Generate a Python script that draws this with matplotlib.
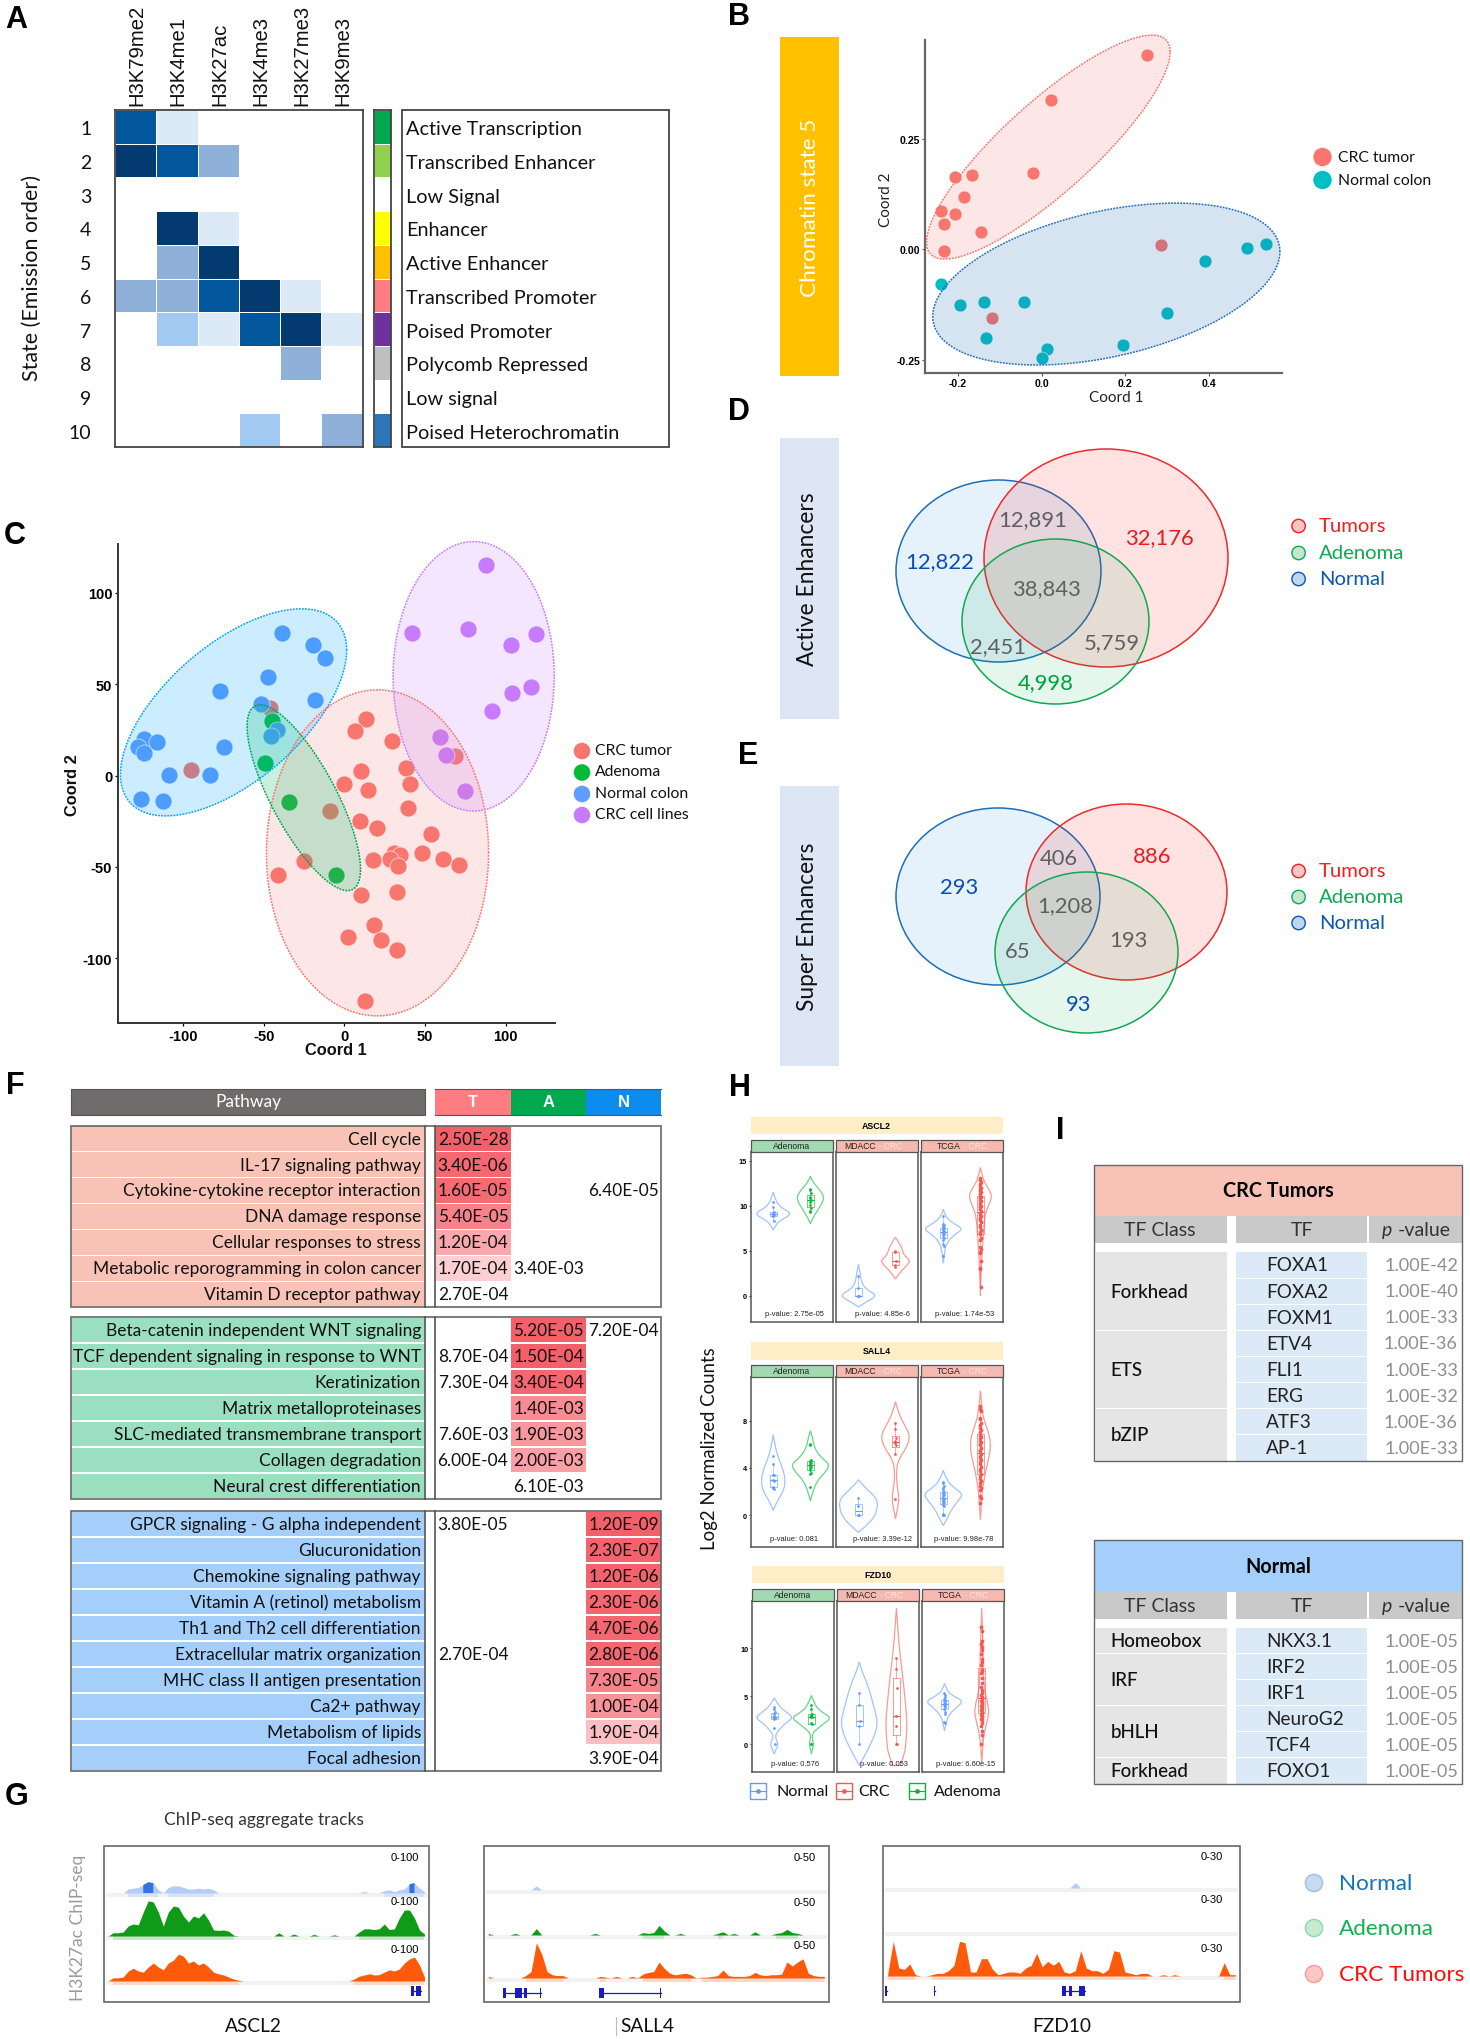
import numpy as np
import matplotlib
matplotlib.use("Agg")
import matplotlib.pyplot as plt
from matplotlib.colors import ListedColormap, LinearSegmentedColormap
from matplotlib.patches import Rectangle, Ellipse, Circle, PathPatch
from matplotlib.path import Path

plt.rcParams['font.family'] = ['Lato', 'DejaVu Sans']
plt.rcParams['axes.unicode_minus'] = False

W, H = 1470, 2040

# ---- panel A
marks = ["H3K79me2", "H3K4me1", "H3K27ac", "H3K4me3", "H3K27me3", "H3K9me3"]
states = ["Active Transcription", "Transcribed Enhancer", "Low Signal", "Enhancer", "Active Enhancer",
          "Transcribed Promoter", "Poised Promoter", "Polycomb Repressed", "Low signal", "Poised Heterochromatin"]
state_colors = ["#00a84f", "#92d050", "#ffffff", "#ffff00", "#ffc000", "#ff7c80", "#7030a0", "#bfbfbf", "#ffffff", "#2e75b6"]
emission = [[4, 1, 0, 0, 0, 0],
            [5, 4, 3, 0, 0, 0],
            [0, 0, 0, 0, 0, 0],
            [0, 5, 1, 0, 0, 0],
            [0, 3, 5, 0, 0, 0],
            [3, 3, 4, 5, 1, 0],
            [0, 2, 1, 4, 5, 1],
            [0, 0, 0, 0, 3, 0],
            [0, 0, 0, 0, 0, 0],
            [0, 0, 0, 2, 0, 3]]
emission_colors = ["#ffffff", "#dce9f7", "#a1c9f1", "#8fb1d9", "#02569b", "#033a70"]

# ---- panel B
b_crc_x = [.2516, .0216, -.0205, -.1652, -.2073, -.1847, -.2397, -.2063, -.2322, -.1436, -.2333, .2851, -.1177]
b_crc_y = [.4397, .3371, .1727, .1667, .1621, .1169, .0867, .0792, .0573, .0377, -.0038, .0090, -.1569]
b_norm_x = [-.2397, -.1955, -.1382, -.0421, -.1339, .0130, 0, .1955, .2991, .3898, .4903, .5356]
b_norm_y = [-.0784, -.1267, -.1207, -.1207, -.2014, -.2255, -.2474, -.2164, -.1440, -.0279, .0030, .0121]

# ---- panel C
c_crc_x = [13.4, 6.3, 29.3, 68.9, 10.5, 38.5, 0, 14.5, 40.5, 39.3, -8.8, 9.7, 20.2, 53.6, 48.1, 61.0, 70.9, 17.7, 30.8,
           34.2, 28.5, 33.0, -24.8, -41.3, 10.3, 32.5, 18.5, 2.0, 22.5, 32.5, 12.8, -46.4, -95.4]
c_crc_y = [30.9, 24.2, 19.0, 10.8, 2.7, 4.3, -4.7, -8.0, -4.5, -18.0, -19.2, -24.8, -28.5, -31.9, -42.2, -45.9, -48.9,
           -46.5, -42.6, -43.6, -45.9, -49.5, -46.7, -54.7, -65.5, -63.5, -82.1, -88.6, -89.9, -95.6, -123.6, 36.9, 3.1]
c_aden_x = [-44.7, -49.3, -34.2, -5.1]
c_aden_y = [29.9, 7.0, -14.3, -54.5]
c_norm_x = [-38.5, -19.7, -12.3, -47.6, -76.9, -18.5, -51.6, -41.9, -45.3, -124.2, -116, -128.2, -124.2, -74.9, -108.8,
            -83.5, -126.5, -112.3]
c_norm_y = [78.0, 71.6, 64.5, 54.2, 46.1, 41.1, 38.9, 24.8, 21.5, 19.9, 18.3, 15.4, 12.1, 15.8, 0.2, 0.4, -12.7, -13.7]
c_line_x = [88.0, 41.9, 76.9, 119.1, 103.1, 116, 103.7, 91.5, 59.3, 63.2, 74.6]
c_line_y = [115.3, 78.2, 80.4, 77.4, 71.6, 48.7, 45.2, 35.4, 20.9, 11.1, -8.4]

# ---- panels D and E
active_counts = ["12,891", "32,176", "12,822", "38,843", "2,451", "5,759", "4,998"]
super_counts = ["406", "886", "293", "1,208", "193", "65", "93"]
venn_groups = ["Tumors", "Adenoma", "Normal"]

# ---- panel F
tumor_paths = ["Cell cycle", "IL-17 signaling pathway", "Cytokine-cytokine receptor interaction", "DNA damage response",
               "Cellular responses to stress", "Metabolic reporogramming in colon cancer", "Vitamin D receptor pathway"]
tumor_T = ["2.50E-28", "3.40E-06", "1.60E-05", "5.40E-05", "1.20E-04", "1.70E-04", "2.70E-04"]
tumor_A = ["", "", "", "", "", "3.40E-03", ""]
tumor_N = ["", "", "6.40E-05", "", "", "", ""]
tumor_shade = [1.0, .95, .93, .78, .55, .3, 0.0]

adenoma_paths = ["Beta-catenin independent WNT signaling", "TCF dependent signaling in response to WNT", "Keratinization",
                 "Matrix metalloproteinases", "SLC-mediated transmembrane transport", "Collagen degradation",
                 "Neural crest differentiation"]
adenoma_T = ["", "8.70E-04", "7.30E-04", "", "7.60E-03", "6.00E-04", ""]
adenoma_A = ["5.20E-05", "1.50E-04", "3.40E-04", "1.40E-03", "1.90E-03", "2.00E-03", "6.10E-03"]
adenoma_N = ["7.20E-04", "", "", "", "", "", ""]
adenoma_shade = [1.0, 1.0, .96, .72, .65, .6, 0.0]

normal_paths = ["GPCR signaling - G alpha independent", "Glucuronidation", "Chemokine signaling pathway",
                "Vitamin A (retinol) metabolism", "Th1 and Th2 cell differentiation", "Extracellular matrix organization",
                "MHC class II antigen presentation", "Ca2+ pathway", "Metabolism of lipids", "Focal adhesion"]
normal_T = ["3.80E-05", "", "", "", "", "2.70E-04", "", "", "", ""]
normal_A = [""] * 10
normal_N = ["1.20E-09", "2.30E-07", "1.20E-06", "2.30E-06", "4.70E-06", "2.80E-06", "7.30E-05", "1.00E-04", "1.90E-04", "3.90E-04"]
normal_shade = [1.0, .98, .98, .96, .96, .96, .78, .68, .4, 0.0]

# ---- panel H, violin outlines are (y, half width), dots are the samples
genes = ["ASCL2", "SALL4", "FZD10"]
cohorts = ["Adenoma", "MDACC", "TCGA"]
ascl2_pvals = ["p-value: 2.75e-05", "p-value: 4.85e-6", "p-value: 1.74e-53"]
sall4_pvals = ["p-value: 0.081", "p-value: 3.39e-12", "p-value: 9.98e-78"]
fzd10_pvals = ["p-value: 0.576", "p-value: 0.053", "p-value: 6.60e-15"]

ascl2_shapes = [
    ([7.3, 7.8, 8.4, 9.1, 9.8, 10.5, 11.0, 11.5], [0, .06, .2, .52, .2, .08, .04, 0]),
    ([8.0, 8.6, 9.5, 10.9, 12.0, 12.7, 13.3], [0, .06, .2, .4, .2, .05, 0]),
    ([-1.26, -.7, 0, .7, 1.5, 2.5, 3.5], [0, .2, .52, .2, .08, .05, 0]),
    ([1.85, 2.5, 3.4, 3.9, 4.5, 5.3, 6.0, 6.5], [0, .1, .32, .4, .22, .18, .07, 0]),
    ([3.6, 4.8, 5.8, 6.8, 7.4, 8.0, 8.8, 9.6], [0, .03, .08, .3, .54, .28, .05, 0]),
    ([-.07, 3, 5, 7, 9, 10, 11.1, 12, 13, 14.26], [0, .02, .05, .08, .12, .22, .32, .2, .06, 0]),
]
ascl2_points = [
    [10.4, 9.9, 9.3, 9.2, 9.1, 9.0, 8.9, 8.8, 8.3],
    [11.9, 11.7, 11.4, 11.0, 10.8, 10.6, 10.4, 10.1, 9.7, 9.4, 9.3],
    [2.2, .9, 0, 0, 0],
    [5.0, 4.9, 3.9, 3.4, 3.2],
    [8.9, 8.0, 7.9, 7.7, 7.6, 7.5, 7.4, 7.3, 7.2, 7.1, 7.0, 6.9, 6.8, 6.6, 6.4, 6.2, 5.7, 5.5, 4.4, 4.4],
    [13.1, 12.8, 12.6, 12.4, 12.2, 12.0, 11.8, 11.6, 11.5, 11.3, 11.1, 11.0, 10.8, 10.6, 10.5, 10.3, 10.1, 10.0, 9.8, 9.6,
     9.4, 9.2, 9.0, 8.8, 8.6, 8.4, 8.2, 7.9, 7.6, 7.3, 7.1, 6.8, 6.4, 6.2, 5.4, 5.2, 4.9, 4.7, 3.9, 3.1, 3.0, 1.0],
]
sall4_shapes = [
    ([.4, 1.2, 2, 2.9, 3.8, 4.6, 5.6, 6.8], [0, .1, .27, .33, .27, .17, .06, 0]),
    ([1.2, 2.0, 3.0, 3.7, 4.3, 4.9, 5.6, 6.4, 7.15], [0, .06, .2, .42, .52, .28, .12, .07, 0]),
    ([-1.45, -.9, -.2, .5, 1.1, 1.7, 2.3, 3.0], [0, .2, .42, .5, .52, .42, .18, 0]),
    ([-.3, .5, 1.5, 2.5, 3.9, 4.8, 5.7, 6.7, 7.6, 8.6, 9.6], [0, .05, .1, .04, .02, .1, .3, .4, .25, .08, 0]),
    ([-.87, -.3, .5, 1.2, 1.8, 2.4, 3.1, 3.8], [0, .1, .22, .4, .54, .25, .07, 0]),
    ([-.37, 1, 2, 3, 4, 5, 6, 7, 8, 9, 10.5], [0, .03, .05, .1, .16, .24, .28, .22, .1, .04, 0]),
]
sall4_points = [
    [5.0, 4.3, 3.4, 3.4, 3.0, 2.9, 2.4, 2.3, 2.2],
    [6.0, 5.9, 4.7, 4.6, 4.5, 4.4, 4.3, 4.2, 4.1, 4.0, 3.8, 3.6, 3.5, 2.4],
    [1.5, .8, 0, 0],
    [7.8, 7.3, 6.5, 6.3, 6.1, 5.9, 5.2, 1.4],
    [2.8, 2.7, 2.5, 2.3, 2.1, 2.0, 1.9, 1.8, 1.7, 1.6, 1.5, 1.4, 1.3, 1.2, 1.1, 1.0, .9, .8, .1, 0, 0, 0],
    [9.2, 9.0, 8.8, 8.2, 8.1, 7.8, 7.6, 7.4, 7.2, 7.0, 6.8, 6.6, 6.5, 6.3, 6.2, 6.0, 5.9, 5.7, 5.5, 5.4, 5.2, 5.0, 4.8, 4.7,
     4.5, 4.3, 4.1, 3.9, 3.7, 3.5, 3.3, 3.1, 2.9, 2.7, 2.5, 2.3, 2.1, 1.6, 1.5, 1.0],
]
fzd10_shapes = [
    ([-1.0, -.5, 0, .5, 1.0, 1.6, 2.2, 2.8, 3.4, 4.1, 4.83], [0, .05, .11, .05, .03, .15, .3, .52, .3, .1, 0]),
    ([-1, -.4, 0, .5, 1.1, 1.6, 2.2, 2.8, 3.4, 4.2, 5.1], [0, .03, .06, .03, .02, .15, .35, .54, .25, .08, 0]),
    ([-2.2, -1, 0, 1, 2.3, 3.5, 5, 6.5, 7.6, 8.6], [0, .17, .3, .42, .5, .42, .32, .2, .07, 0]),
    ([-2.2, -1, 0, 1.5, 2.6, 4, 6, 8, 10, 12, 14.2], [.1, .22, .25, .28, .28, .25, .2, .14, .08, .04, 0]),
    ([1.4, 2.2, 3, 3.8, 4.5, 5.1, 5.7, 6.35], [0, .04, .1, .3, .52, .2, .05, 0]),
    ([-1.95, 0, 1, 2, 3, 3.5, 4.5, 5.5, 7, 9, 11, 14.2], [0, .03, .06, .12, .18, .19, .15, .08, .05, .04, .03, 0]),
]
fzd10_points = [
    [3.9, 3.7, 3.4, 3.2, 3.0, 2.9, 2.8, 2.7, 2.7, 2.6, 1.7, 0],
    [4.1, 3.7, 3.2, 3.1, 3.0, 2.9, 2.8, 2.2, 2.1, 0, 0],
    [5.4, 4.1, 2.4, 1.9, 0],
    [9, 7.9, 5.9, 3.0, 1.9, 0, 0],
    [5.4, 5.1, 4.9, 4.7, 4.6, 4.5, 4.4, 4.3, 4.2, 4.1, 4.0, 3.9, 3.7, 3.4, 3.2, 2.3, 2.2],
    [12.2, 11.8, 10.8, 10.5, 10.1, 9.8, 9.4, 8.9, 8.6, 8.3, 7.8, 7.6, 7.4, 6.9, 6.4, 6.0, 5.7, 5.4, 5.1, 4.9, 4.7, 4.5,
     4.4, 4.2, 4.0, 3.9, 3.7, 3.6, 3.4, 3.3, 3.1, 3.0, 2.8, 2.6, 2.5, 2.2, 1.9, 1.4, 1.0, 0],
]

# ---- panel G, signal height per bin (64 bins over the window), bins not listed are empty
ascl2_normal = {4: 10, 5: 12, 6: 14, 7: 20, 8: 27, 9: 25, 10: 8, 12: 14, 13: 18, 14: 18, 15: 14, 16: 10, 17: 10, 18: 12,
                19: 10, 20: 12, 21: 8, 51: 4, 55: 6, 56: 8, 57: 3, 58: 8, 59: 10, 60: 22, 61: 25, 62: 12, 63: 3}
ascl2_adenoma = {1: 8, 2: 8, 3: 10, 4: 25, 5: 30, 6: 28, 7: 60, 8: 88, 9: 85, 10: 60, 11: 25, 12: 60, 13: 75, 14: 72,
                 15: 50, 16: 35, 17: 50, 18: 45, 19: 58, 20: 40, 21: 15, 22: 14, 23: 15, 24: 12, 25: 2, 34: 8, 37: 5,
                 41: 4, 45: 3, 50: 10, 51: 18, 52: 18, 53: 16, 54: 18, 55: 30, 56: 16, 57: 18, 58: 45, 59: 65, 60: 65,
                 61: 45, 62: 15, 63: 5}
ascl2_tumor = {1: 8, 2: 8, 3: 10, 4: 25, 5: 32, 6: 25, 7: 22, 8: 35, 9: 45, 10: 35, 11: 28, 12: 45, 13: 52, 14: 67,
               15: 62, 16: 45, 17: 50, 18: 40, 19: 45, 20: 35, 21: 22, 22: 18, 23: 15, 24: 10, 25: 5, 26: 2, 49: 5,
               50: 12, 51: 15, 52: 18, 53: 15, 54: 16, 55: 22, 56: 28, 57: 25, 58: 30, 59: 45, 60: 55, 61: 60, 62: 40, 63: 10}
sall4_normal = {9: 5}
sall4_adenoma = {0: 2, 5: 2, 9: 8, 20: 2, 29: 3, 30: 2, 31: 3, 32: 12, 33: 5, 36: 2, 43: 2, 44: 4, 46: 2, 50: 4, 54: 2,
                 55: 3, 56: 7, 57: 3, 58: 2}
sall4_tumor = {0: 2, 7: 3, 8: 8, 9: 44, 10: 30, 11: 8, 12: 4, 13: 3, 14: 3, 21: 2, 22: 1, 24: 2, 27: 2, 29: 5, 30: 7,
               31: 8, 32: 20, 33: 12, 34: 6, 35: 4, 36: 5, 37: 6, 38: 4, 40: 1, 41: 1, 42: 2, 43: 3, 44: 10, 45: 3, 46: 2,
               47: 2, 48: 2, 49: 3, 50: 7, 51: 4, 52: 3, 53: 4, 54: 4, 55: 5, 56: 20, 57: 15, 58: 20, 59: 24, 60: 6,
               61: 3, 62: 2, 63: 2}
fzd10_normal = {34: 4}
fzd10_adenoma = {}
fzd10_tumor = {0: 2, 1: 26, 2: 6, 3: 5, 4: 9, 5: 1, 8: 1, 9: 2, 10: 2, 11: 4, 12: 8, 13: 26, 14: 25, 15: 3, 16: 3, 17: 13,
               18: 13, 19: 5, 20: 1, 21: 2, 22: 3, 23: 3, 24: 2, 25: 6, 26: 8, 27: 17, 28: 7, 29: 11, 30: 8, 31: 11, 32: 3,
               33: 2, 34: 4, 35: 19, 36: 6, 37: 4, 38: 4, 39: 2, 40: 5, 41: 19, 42: 18, 43: 3, 44: 2, 45: 1, 46: 2, 47: 2,
               50: 1, 52: 1, 61: 10, 62: 1, 63: 1}
ascl2_range, sall4_range, fzd10_range = 100, 50, 30

# ---- panel I
tumor_classes = ["Forkhead", "ETS", "bZIP"]
tumor_class_rows = [3, 3, 2]
tumor_tfs = ["FOXA1", "FOXA2", "FOXM1", "ETV4", "FLI1", "ERG", "ATF3", "AP-1"]
tumor_tf_p = ["1.00E-42", "1.00E-40", "1.00E-33", "1.00E-36", "1.00E-33", "1.00E-32", "1.00E-36", "1.00E-33"]
normal_classes = ["Homeobox", "IRF", "bHLH", "Forkhead"]
normal_class_rows = [1, 2, 2, 1]
normal_tfs = ["NKX3.1", "IRF2", "IRF1", "NeuroG2", "TCF4", "FOXO1"]
normal_tf_p = ["1.00E-05"] * 6

fig = plt.figure(figsize=(W / 100, H / 100), dpi=100, facecolor="white")

# overlay in pixel coordinates for labels, bands and tables
page = fig.add_axes([0, 0, 1, 1], zorder=5)
page.set_xlim(0, W)
page.set_ylim(H, 0)
page.axis("off")


def px_ax(x0, y0, x1, y1, **kw):
    return fig.add_axes([x0 / W, 1 - y1 / H, (x1 - x0) / W, (y1 - y0) / H], **kw)


def txt(x, y, s, size=12, ha="center", color="#111111", **kw):
    return page.text(x, y, s, fontsize=size, ha=ha, va="center", color=color, **kw)


def box(x0, y0, x1, y1, fc="none", ec="none", lw=0, **kw):
    page.add_patch(Rectangle((x0, y0), x1 - x0, y1 - y0, facecolor=fc, edgecolor=ec, linewidth=lw, **kw))


def conf_ellipse(ax, xr, yr, rho, color, alpha=.2, edge=None):
    # ellipse from its bounding box and tilt
    t = np.linspace(0, 2 * np.pi, 200)
    cx, rx = (xr[0] + xr[1]) / 2, (xr[1] - xr[0]) / 2
    cy, ry = (yr[0] + yr[1]) / 2, (yr[1] - yr[0]) / 2
    x = cx + rx * np.cos(t)
    y = cy + ry * np.cos(t - np.arccos(rho))
    ax.fill(x, y, color=color, alpha=alpha, lw=0, zorder=4, clip_on=False)
    ax.plot(x, y, color=edge or color, lw=1.1, ls=(0, (1.2, .8)), zorder=5, clip_on=False)


def scatter_axes(ax, color, lw):
    for s in ["top", "right"]:
        ax.spines[s].set_visible(False)
    for s in ["left", "bottom"]:
        ax.spines[s].set_color(color)
        ax.spines[s].set_linewidth(lw)


def letters():
    for s, x, y in [("A", 16, 20), ("B", 739, 17), ("C", 15, 536), ("D", 739, 412), ("E", 748, 756),
                    ("F", 15, 1086), ("G", 17, 1797), ("H", 740, 1088), ("I", 1060, 1131)]:
        txt(x, y, s, size=22, fontweight="bold", family="Liberation Sans", color="black")


def panel_a():
    ax = px_ax(115, 111, 362.5, 448)
    ax.pcolormesh(np.array(emission), cmap=ListedColormap(emission_colors), vmin=-.5, vmax=5.5,
                  edgecolors="white", linewidth=.6)
    ax.set_ylim(10, 0)
    ax.set_xticks([])
    ax.set_yticks([])
    strip = px_ax(374, 111, 390.5, 448)
    strip.pcolormesh(np.arange(10).reshape(-1, 1), cmap=ListedColormap(state_colors), edgecolors="white", linewidth=.5)
    strip.set_ylim(10, 0)
    strip.set_xticks([])
    strip.set_yticks([])
    for a in (ax, strip):
        for s in a.spines.values():
            s.set_color("#444444")
            s.set_linewidth(1.3)
    box(402, 111, 669, 448, ec="#444444", lw=1.3)
    rh = (448 - 111) / 10
    for i, s in enumerate(states):
        y = 111 + rh * (i + .5) + 2
        txt(406, y, s, size=14.3, ha="left")
        txt(91.5, y, str(i + 1), size=14, ha="right")
    for i, s in enumerate(marks):
        page.text(115 + (362.5 - 115) / 6 * (i + .5) + 1.5, 106, s, fontsize=14.6, rotation=90, ha="center", va="bottom",
                  family="Liberation Sans", color="#111111")
    txt(32, 278, "State (Emission order)", size=15.4, rotation=90)


def panel_b():
    box(780.4, 38, 838.8, 376.7, fc="#ffc000")
    txt(810, 208, "Chromatin state 5", size=16.2, rotation=90, color="white")
    ax = px_ax(925, 41, 1282, 374)
    ax.set_xlim(-.2785, .574)
    ax.set_ylim(-.2805, .473)
    ax.patch.set_alpha(0)
    ax.scatter(b_crc_x, b_crc_y, s=86, color="#f8766d", edgecolor="white", linewidth=.4, zorder=3)
    ax.scatter(b_norm_x, b_norm_y, s=86, color="#00bfc4", edgecolor="white", linewidth=.4, zorder=3)
    conf_ellipse(ax, (-.275, .307), (-.0226, .484), .85, "#f8766d", alpha=.17)
    conf_ellipse(ax, (-.26, .569), (-.2624, .104), .4, "#2a6fb0", alpha=.19, edge="#1f6fc0")
    ax.set_xticks([-.2, 0, .2, .4])
    ax.set_xticklabels(["-0.2", "0.0", "0.2", "0.4"], fontsize=7.6, fontweight="bold", family="Liberation Sans")
    ax.set_yticks([-.25, 0, .25])
    ax.set_yticklabels(["-0.25", "0.00", "0.25"], fontsize=7.6, fontweight="bold", family="Liberation Sans")
    ax.tick_params(length=2, width=.8, pad=1.5, color="#555555")
    scatter_axes(ax, "#666666", 1.6)
    txt(1116, 398, "Coord 1", size=11, color="#222222")
    txt(886, 200, "Coord 2", size=11, rotation=90, color="#222222")
    for y, c, s in [(158, "#f8766d", "CRC tumor"), (181, "#00bfc4", "Normal colon")]:
        page.add_patch(Circle((1322.5, y), 9.5, fc=c, ec="white", lw=.4))
        txt(1338, y, s, size=11.3, ha="left")


def panel_c():
    ax = px_ax(118.5, 544.6, 555.5, 1024)
    ax.set_xlim(-140.2, 131)
    ax.set_ylim(-135.5, 127)
    ax.patch.set_alpha(0)
    size = 150
    for xs, ys, c in [(c_crc_x, c_crc_y, "#f8766d"), (c_aden_x, c_aden_y, "#00ba38"),
                      (c_norm_x, c_norm_y, "#619cff"), (c_line_x, c_line_y, "#c77cff")]:
        ax.scatter(xs, ys, s=size, color=c, edgecolor="white", linewidth=.5, zorder=3)
    conf_ellipse(ax, (-139, 1.4), (-22.1, 91.3), .6, "#00a5ff")
    conf_ellipse(ax, (-48.4, 89.5), (-131.6, 46.9), .001, "#f8766d", alpha=.17)
    conf_ellipse(ax, (-60.4, 10), (-63, 38.7), -.77, "#00c070", alpha=.22, edge="#00a050")
    conf_ellipse(ax, (30.2, 130.2), (-19.4, 128.1), .001, "#c77cff", alpha=.19)
    ax.set_xticks([-100, -50, 0, 50, 100])
    ax.set_yticks([-100, -50, 0, 50, 100])
    ax.tick_params(labelsize=10.5, length=2.5, width=.9, pad=2)
    for lab in ax.get_xticklabels() + ax.get_yticklabels():
        lab.set_fontweight("bold")
        lab.set_family("Liberation Sans")
    scatter_axes(ax, "#333333", 1.4)
    txt(336, 1051, "Coord 1", size=11.8, fontweight="bold", family="Liberation Sans")
    txt(73, 785, "Coord 2", size=11.8, fontweight="bold", family="Liberation Sans", rotation=90)
    for y, c, s in [(752, "#f8766d", "CRC tumor"), (773.5, "#00ba38", "Adenoma"), (795, "#619cff", "Normal colon"),
                    (816, "#c77cff", "CRC cell lines")]:
        page.add_patch(Circle((582, y), 8.3, fc=c, ec="none"))
        txt(595, y - 1, s, size=11.3, ha="left")


def venn(band, title, blue, red, green, counts, pos, legend_y, tumor_color="#e81c1c"):
    box(780, band[0], 839, band[1], fc="#dce6f4")
    txt(808, (band[0] + band[1]) / 2, title, size=16.4, rotation=90)
    for b, fill, edge, a in [(blue, "#2f8fdf", "#1c6fb8", .12), (red, "#ff0000", "#ee2a2a", .115), (green, "#00b050", "#10a850", .1)]:
        xy = ((b[0] + b[1]) / 2, (b[2] + b[3]) / 2)
        page.add_patch(Ellipse(xy, b[1] - b[0], b[3] - b[2], fc=fill, ec="none", alpha=a))
        page.add_patch(Ellipse(xy, b[1] - b[0], b[3] - b[2], fc="none", ec=edge, lw=1.1))
    colors = ["#5f5f5f", tumor_color, "#0a4fb0", "#5f5f5f", "#5f5f5f", "#5f5f5f", "#00a040" if title.startswith("Active") else "#0a4fb0"]
    for s, c, (x, y) in zip(counts, colors, pos):
        txt(x, y, s, size=15.8, color=c)
    for y, s, c, fill in zip(legend_y, venn_groups, ["#ee2020", "#10a850", "#0a55b5"], ["#ffc4c4", "#bfe8d0", "#bcd7ef"]):
        page.add_patch(Circle((1298.6, y), 6.7, fc=fill, ec=c, lw=1))
        txt(1319, y, s, size=14.6, ha="left", color=c)


def path_table(top, bottom, names, t_vals, a_vals, n_vals, shade, shade_col, fill):
    n = len(names)
    rh = (bottom - top) / n
    cols = [(435, 511), (511, 586), (586, 661.5)]
    cmap = LinearSegmentedColormap.from_list("hit", ["#ffffff", "#f4606a"])
    for i in range(n):
        y0 = top + rh * i
        box(72, y0 + .6, 425, y0 + rh - .6, fc=fill)
        box(cols[shade_col][0], y0 + .6, cols[shade_col][1], y0 + rh - .6, fc=cmap(float(shade[i])))
        txt(421, y0 + rh / 2, names[i], size=12.5, ha="right")
        for (c0, c1), vals in zip(cols, (t_vals, a_vals, n_vals)):
            if vals[i]:
                txt((c0 + c1) / 2, y0 + rh / 2, vals[i], size=12.4)
    box(71, top, 661.5, bottom, ec="#666666", lw=1.2)
    page.plot([425, 425], [top, bottom], color="#555555", lw=1.2)
    page.plot([435, 435], [top, bottom], color="#555555", lw=1.2)


def panel_f():
    box(71, 1090, 425, 1115.7, fc="#716c6c", ec="#555555", lw=.8)
    txt(248, 1102.5, "Pathway", size=12.5, color="white")
    for (x0, x1), c, s in [((435, 511), "#ff7c80", "T"), ((511, 586), "#00a84f", "A"), ((586, 661.5), "#0d8cf0", "N")]:
        box(x0, 1090, x1, 1115.7, fc=c)
        txt((x0 + x1) / 2, 1102.5, s, size=12, color="white", fontweight="bold", family="Liberation Sans")
    page.plot([435, 661.5], [1090, 1090], color="#555555", lw=.8)
    page.plot([435, 661.5], [1115.7, 1115.7], color="#555555", lw=.8)
    path_table(1126.7, 1308, tumor_paths, tumor_T, tumor_A, tumor_N, tumor_shade, 0, "#f8c3b6")
    path_table(1318, 1500, adenoma_paths, adenoma_T, adenoma_A, adenoma_N, adenoma_shade, 1, "#9adfc0")
    path_table(1512, 1772, normal_paths, normal_T, normal_A, normal_N, normal_shade, 2, "#a4cffa")


def violin(ax, pos, ys, ws, color):
    # smooth closed outline with the read points as curve controls
    up = [(pos + w, y) for y, w in zip(ys, ws)]
    down = [(pos - w, y) for y, w in zip(ys, ws)][::-1]
    verts, codes = [], []
    for side in (up, down):
        verts.append(side[0])
        codes.append(Path.MOVETO if not verts[:-1] else Path.LINETO)
        for i in range(1, len(side) - 1):
            end = side[-1] if i == len(side) - 2 else ((side[i][0] + side[i + 1][0]) / 2, (side[i][1] + side[i + 1][1]) / 2)
            verts += [side[i], end]
            codes += [Path.CURVE3, Path.CURVE3]
    verts.append(up[0])
    codes.append(Path.CLOSEPOLY)
    ax.add_patch(PathPatch(Path(verts, codes), fc="none", ec=color, lw=.9, alpha=.6))


def violin_row(title_y, strip_y, bottom, xs, ylim, ticks, shapes, points, pvals, gene):
    box(xs[0][0], title_y[0], xs[2][1], title_y[1], fc="#fdeec8")
    txt((xs[0][0] + xs[2][1]) / 2, (title_y[0] + title_y[1]) / 2, gene, size=6.4, fontweight="bold", family="Liberation Sans", color="black")
    group_colors = [("#619cff", "#00ba38"), ("#619cff", "#f8564e"), ("#619cff", "#f8564e")]
    p_x = [.53, .57, .53]
    for j, (x0, x1) in enumerate(xs):
        ax = px_ax(x0, strip_y[1], x1, bottom)
        ax.set_xlim(.393, 2.6)
        ax.set_ylim(*ylim)
        for g in range(2):
            k = j * 2 + g
            c = group_colors[j][g]
            violin(ax, g + 1, shapes[k][0], shapes[k][1], c)
            pts = points[k]
            ax.boxplot([pts], positions=[g + 1], widths=.2, showfliers=False, manage_ticks=False,
                       boxprops=dict(color=c, lw=.6, alpha=.7), medianprops=dict(color=c, lw=.8),
                       whiskerprops=dict(color=c, lw=.5, alpha=.7), showcaps=False)
            offs = [.015 * ((i % 3) - 1) for i in range(len(pts))]
            ax.scatter(np.array(offs) + g + 1, pts, s=7 if len(pts) > 30 else 3.8, color=c, lw=0, zorder=3)
        ax.text(p_x[j], .05, pvals[j], transform=ax.transAxes, fontsize=5.4, ha="center", va="center", color="#222222", family="Liberation Sans")
        ax.set_xticks([])
        if j == 0:
            ax.set_yticks(ticks)
            ax.tick_params(axis="y", labelsize=5.2, length=1.5, width=.6, pad=1)
            for lab in ax.get_yticklabels():
                lab.set_fontweight("bold")
                lab.set_family("Liberation Sans")
        else:
            ax.set_yticks([])
        for s in ax.spines.values():
            s.set_color("#555555")
            s.set_linewidth(1.1)
        fc = "#a3d9b1" if j == 0 else "#f6b9b0"
        box(x0, strip_y[0], x1, strip_y[1], fc=fc, ec="#555555", lw=.9)
        ym = (strip_y[0] + strip_y[1]) / 2
        if j == 0:
            txt((x0 + x1) / 2, ym, cohorts[j], size=6.2, family="Liberation Sans", color="#222222")
        else:
            txt((x0 + x1) / 2 - 1, ym, cohorts[j], size=6.2, ha="right", family="Liberation Sans", color="#222222")
            txt((x0 + x1) / 2 - 1, ym, " - CRC", size=6.2, ha="left", family="Liberation Sans", color="#fde4e0")


def panel_h():
    rows = [((750.7, 832.7), (836, 917.7), (920.7, 1002.7))] * 2 + [((751.7, 833.7), (836.7, 918.7), (922, 1004))]
    violin_row((1117.7, 1135.3), (1140.7, 1152.7), 1322.7, rows[0], (-2.9, 16), [0, 5, 10, 15], ascl2_shapes, ascl2_points, ascl2_pvals, genes[0])
    violin_row((1343, 1361), (1365.7, 1377.7), 1547.7, rows[1], (-2.65, 11.7), [0, 4, 8], sall4_shapes, sall4_points, sall4_pvals, genes[1])
    violin_row((1567, 1584), (1589.7, 1601.7), 1772.7, rows[2], (-2.85, 14.97), [0, 5, 10], fzd10_shapes, fzd10_points, fzd10_pvals, genes[2])
    txt(710, 1449, "Log2 Normalized Counts", size=13.4, rotation=90)
    for x, tx, c, s in [(758, 776.7, "#619cff", "Normal"), (844, 858, "#f8564e", "CRC"), (916.7, 934, "#00ba38", "Adenoma")]:
        box(x - 8, 1784, x + 8, 1800, ec=c, lw=1)
        page.plot([x - 8, x + 8], [1792, 1792], color=c, lw=.8)
        page.plot([x], [1792], "o", ms=2.4, color=c)
        txt(tx, 1792, s, size=11.6, ha="left")


def track(span, base, counts, top, color, pale=None, dark_from=None):
    h = np.zeros(64)
    for i, v in counts.items():
        h[i] = v
    ax = px_ax(span[0] + 2, base - 40, span[1] - 2, base + 5)
    ax.set_xlim(0, 64)
    ax.set_ylim(-top * 5 / 40, top)
    ax.axis("off")
    x = np.arange(64) + .5
    ax.axhspan(-top * 4 / 40, 0, color="#f2f2f2", lw=0)
    ax.fill_between(x, -top * 4 / 40, 0, where=h > 0, step="mid", color=pale or color, alpha=.4, lw=0)
    if dark_from is None:
        ax.fill_between(x, 0, h, color=color, lw=0)
    else:
        ax.fill_between(x, 0, h, color=pale, lw=0)
        ax.fill_between(x, 0, h, where=h >= dark_from, color=color, lw=0)


def gene_model(span, base, line, exons):
    w = span[1] - span[0]
    page.plot([span[0] + w * line[0], span[0] + w * line[1]], [base, base], color="#1a1ac8", lw=.9)
    for e0, e1 in exons:
        box(span[0] + w * e0, base - 5, span[0] + w * e1, base + 5, fc="#1a1ac8")


def panel_g():
    spans = [(103.6, 429), (483.7, 829), (883, 1240)]
    label_x = [404.6, 805, 1212]
    label_y = [(1858, 1902, 1950), (1858, 1903, 1946), (1857, 1900, 1949)]
    bases = [(1894, 1937, 1982), (1891, 1936, 1979), (1889, 1933, 1977)]
    tracks = [(ascl2_normal, ascl2_adenoma, ascl2_tumor, ascl2_range), (sall4_normal, sall4_adenoma, sall4_tumor, sall4_range),
              (fzd10_normal, fzd10_adenoma, fzd10_tumor, fzd10_range)]
    for j, span in enumerate(spans):
        box(span[0], 1846.7, span[1], 2003.3, ec="#666666", lw=1.2)
        n, a, t, rng = tracks[j]
        track(span, bases[j][0], n, rng, "#2f74e0", "#b3cdf7", rng * .2)
        track(span, bases[j][1], a, rng, "#0f9a18", "#8fd48f")
        track(span, bases[j][2], t, rng, "#ff5a0a", "#ffb58f")
        for y in label_y[j]:
            txt(label_x[j], y, f"0-{rng}", size=8, family="Liberation Sans", color="black")
    gene_model(spans[0], 1992, (.944, .975), [(.944, .955), (.96, .975)])
    gene_model(spans[1], 1994, (.059, .167), [(.057, .066), (.09, .11), (.118, .126), (.164, .167)])
    gene_model(spans[1], 1994, (.337, .513), [(.335, .348), (.51, .513)])
    gene_model(spans[2], 1992, (.502, .565), [(.502, .512), (.522, .53), (.548, .565)])
    gene_model(spans[2], 1992, (.007, .011), [(.007, .011)])
    gene_model(spans[2], 1992, (.143, .147), [(.143, .147)])
    txt(264, 1820, "ChIP-seq aggregate tracks", size=12.5, color="#333333")
    txt(78, 1928, "H3K27ac ChIP-seq", size=12.5, rotation=90, color="#9a9a9a")
    txt(253, 2027, genes[0], size=13.8)
    page.plot([616, 616], [2018, 2036], color="#bbbbbb", lw=.8)
    txt(647, 2027, genes[1], size=13.8)
    txt(1062, 2027, genes[2], size=13.8)
    for y, s, c, fill in [(1884, "Normal", "#1273bb", "#c6daf0"), (1929, "Adenoma", "#10b050", "#c5ebd3"), (1975, "CRC Tumors", "#ff0a0a", "#ffc6c6")]:
        page.add_patch(Circle((1314, y), 8.6, fc=fill, ec="#9cc0e0" if s == "Normal" else ("#8fd8a8" if s == "Adenoma" else "#ff9a9a"), lw=1))
        txt(1339, y, s, size=16.2, ha="left", color=c)


def tf_table(top, title_bottom, bottom, title, color, classes, class_rows, tfs, pvals):
    x0, x1 = 1093.7, 1462
    box(x0, top, x1, title_bottom, fc=color)
    txt(1278, (top + title_bottom) / 2, title, size=14.2, fontweight="bold", color="black")
    head_b = title_bottom + 26.5
    rows_t = head_b + 9
    rh = (bottom - rows_t) / len(tfs)
    box(x0, title_bottom, 1227, head_b, fc="#c9c9c9")
    box(1236, title_bottom, 1367, head_b, fc="#c9c9c9")
    box(1369, title_bottom, x1, head_b, fc="#c9c9c9")
    ym = (title_bottom + head_b) / 2
    txt(1160, ym, "TF Class", size=14, color="#333333")
    txt(1302, ym, "TF", size=14, color="#333333")
    txt(1387, ym, "p", size=14, color="#333333", style="italic")
    txt(1398, ym, "-value", size=14, color="#333333", ha="left")
    r = 0
    for s, n in zip(classes, class_rows):
        box(x0 + 2, rows_t + r * rh + .5, 1227, rows_t + (r + n) * rh - .5, fc="#e5e5e5")
        txt(1110.7, rows_t + (r + n / 2) * rh, s, size=13.5, ha="left", fontweight="medium", color="#111111")
        r += n
    for i, (tf, p) in enumerate(zip(tfs, pvals)):
        y0 = rows_t + i * rh
        box(1236, y0 + .5, 1367, y0 + rh - .5, fc="#dce9f6")
        txt(1266, y0 + rh / 2, tf, size=13.7, ha="left", color="#222222")
        txt(1458, y0 + rh / 2, p, size=13.1, ha="right", color="#8e8e8e")
    box(x0, top, x1, bottom, ec="#666666", lw=1)


def main():
    letters()
    panel_a()
    panel_b()
    panel_c()
    venn((439, 719.7), "Active Enhancers", (896, 1101, 481, 663), (984, 1228, 450, 668), (962, 1149, 540, 705), active_counts,
         [(1033, 520), (1159, 538), (940, 562), (1047, 589), (998, 647), (1112, 643), (1046, 683)], (527, 554, 580))
    venn((787, 1067), "Super Enhancers", (896, 1100, 809, 986), (1026, 1227, 805, 981), (995, 1178, 873, 1034), super_counts,
         [(1059, 859), (1152, 857), (959, 888), (1065, 906), (1128, 941), (1018, 952), (1079, 1005)], (872, 898, 924))
    panel_f()
    panel_h()
    panel_g()
    tf_table(1165.6, 1217.4, 1462, "CRC Tumors", "#f8c3b6", tumor_classes, tumor_class_rows, tumor_tfs, tumor_tf_p)
    tf_table(1541, 1593, 1785, "Normal", "#a4cffa", normal_classes, normal_class_rows, normal_tfs, normal_tf_p)
    fig.savefig("out.png", dpi=100)


if __name__ == "__main__":
    main()
